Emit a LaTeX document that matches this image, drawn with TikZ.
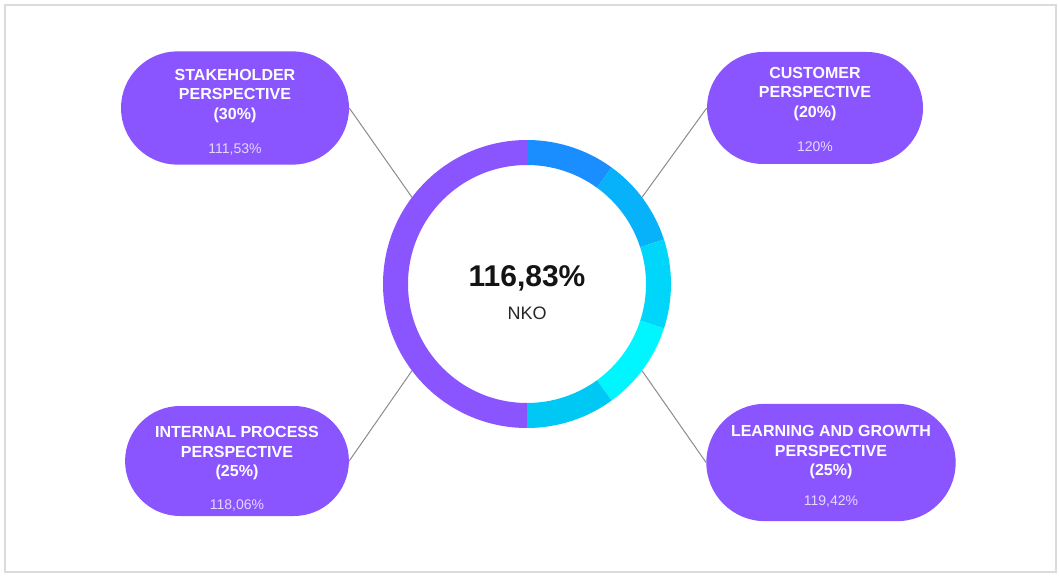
\documentclass[tikz,border=0pt]{standalone}
\usepackage{fontspec}
\setmainfont{Liberation Sans}
\usetikzlibrary{calc,shapes.misc,positioning}
\definecolor{kpipurple}{HTML}{8A55FF}
\definecolor{kpilavender}{HTML}{E4D8FF}
\definecolor{seg1}{HTML}{1A8EFF}
\definecolor{seg2}{HTML}{08B2FA}
\definecolor{seg3}{HTML}{00D6FA}
\definecolor{seg4}{HTML}{00F6FF}
\definecolor{seg5}{HTML}{00C8F5}
\newcommand{\kpival}[1]{{\fontsize{10.5}{12}\selectfont\mdseries\color{kpilavender}#1}}

\begin{document}
\begin{tikzpicture}[x=0.75pt,y=0.75pt]

\tikzset{pill/.style={rounded rectangle,fill=kpipurple,text=white,align=center,inner sep=0pt,font=\fontsize{12}{14.6}\selectfont\bfseries},
link/.style={draw=black!45,line width=0.75pt}}

% Frame
\fill[white] (0,0) rectangle (1059,579);
\useasboundingbox (0,0) rectangle (1059,579);
\draw[black!14,line width=1.5pt] (5,7) rectangle (1056,574);

% Nodes
\coordinate (ring) at (527,295);
\node[pill,minimum width=171pt,minimum height=85pt] (stake) at (235,471) {\rule{0pt}{14.6pt}STAKEHOLDER\\PERSPECTIVE\\(30\%)\\[11pt]\kpival{111,53\%}};
\node[pill,minimum width=162pt,minimum height=84pt] (cust) at (815,471) {\rule{0pt}{10.6pt}CUSTOMER\\PERSPECTIVE\\(20\%)\\[11pt]\kpival{120\%}};
\node[pill,minimum width=163pt,minimum height=82.5pt,inner xsep=-2.3pt] (intern) at (237,118) {\rule{0pt}{20.6pt}INTERNAL PROCESS\\PERSPECTIVE\\(25\%)\\[10pt]\kpival{118,06\%}};
\node[pill,minimum width=187pt,minimum height=88pt] (learn) at (831,116.5) {\rule{0pt}{14.6pt}LEARNING AND GROWTH\\PERSPECTIVE\\(25\%)\\[8pt]\kpival{119,42\%}};

% Connectors
\coordinate (ringNW) at ($(ring)+(143:144)$);
\coordinate (ringNE) at ($(ring)+(37:144)$);
\coordinate (ringSW) at ($(ring)+(217:144)$);
\coordinate (ringSE) at ($(ring)+(323:144)$);
\draw[link] (stake.east) -- (ringNW);
\draw[link] (cust.west) -- (ringNE);
\draw[link] (intern.east) -- (ringSW);
\draw[link] (learn.west) -- (ringSE);

% Ring
\foreach \a/\b/\c in {90/270/kpipurple, 54/90/seg1, 18/54/seg2, -18/18/seg3, -54/-18/seg4, -90/-54/seg5}
  \fill[\c] ($(ring)+(\a:144)$) arc[start angle=\a,end angle=\b,radius=144] -- ($(ring)+(\b:119)$) arc[start angle=\b,end angle=\a,radius=119] -- cycle;

% Score
\node[anchor=base,font=\fontsize{22.5}{27}\selectfont\bfseries,text=black!92] (score) at (527,292) {116,83\%};
\node[anchor=base,font=\fontsize{13.5}{16}\selectfont,text=black!85] (nko) at (527,259.5) {NKO};

\end{tikzpicture}
\end{document}
